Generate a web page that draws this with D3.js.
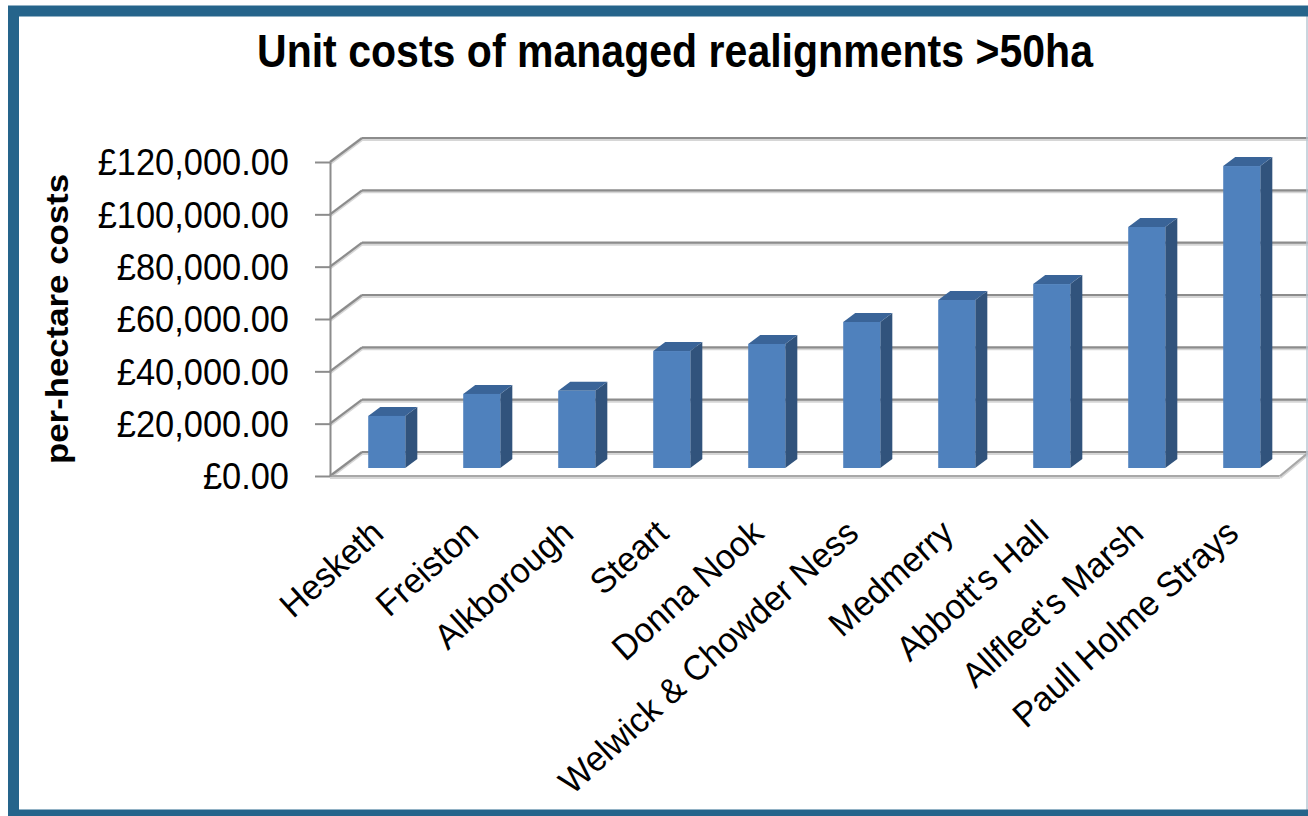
<!DOCTYPE html>
<html>
<head>
<meta charset="utf-8">
<script src="https://cdn.jsdelivr.net/npm/d3@7"></script>
<style>
  body { margin: 0; background: #fff; }
  svg { display: block; font-family: "Liberation Sans", Arial, sans-serif; }
</style>
</head>
<body>
<script>
// data
const sites = ["Hesketh", "Freiston", "Alkborough", "Steart", "Donna Nook",
  "Welwick & Chowder Ness", "Medmerry", "Abbott's Hall", "Allfleet's Marsh", "Paull Holme Strays"];
const costs = [19900, 28300, 29500, 44700, 47400, 55800, 64200, 70300, 92100, 115400];
const yTicks = [0, 20000, 40000, 60000, 80000, 100000, 120000];

const w = 1308, h = 816;
const plotLeft = 330, plotRight = 1280, plotBottom = 476, plotTop = 162;
const depthX = 32, depthY = 24;   // wall depth offset
const barFront = 1 / 3, barBack = 0.71;

const svg = d3.select("body").append("svg")
  .attr("width", w).attr("height", h);

const x = d3.scaleBand().domain(sites).range([plotLeft, plotRight]).padding(0);
const y = d3.scaleLinear().domain([0, 120000]).range([plotBottom, plotTop]);

// squeeze a text element horizontally
function squeeze(sel, k) {
  sel.each(function () {
    const len = this.getComputedTextLength();
    d3.select(this).attr("textLength", len * k).attr("lengthAdjust", "spacingAndGlyphs");
  });
}

// back wall gridlines + left wall diagonals
const grid = svg.append("g");
function gridLine(x1, y1, x2, y2, col) {
  grid.append("line").attr("x1", x1).attr("y1", y1 + 1.5).attr("x2", x2).attr("y2", y2 + 1.5)
    .attr("stroke", "#d6d6d6").attr("stroke-width", 3);
  grid.append("line").attr("x1", x1).attr("y1", y1).attr("x2", x2).attr("y2", y2)
    .attr("stroke", col).attr("stroke-width", 2.2);
}
yTicks.forEach(v => {
  const yf = y(v), yb = y(v) - depthY;
  gridLine(plotLeft + depthX, yb, w, yb, "#8c8c8c");
  gridLine(plotLeft, yf, plotLeft + depthX, yb, "#8c8c8c");
});
// floor
gridLine(plotLeft, plotBottom, plotRight, plotBottom, "#a8a8a8");
gridLine(plotRight, plotBottom, plotRight + depthX - 3, plotBottom - depthY, "#a8a8a8");

// front value axis
const yAxis = d3.axisLeft(y).tickValues(yTicks).tickSize(15).tickSizeOuter(0).tickPadding(26)
  .tickFormat(d => "£" + d3.format(",.2f")(d));
const ax = svg.append("g").attr("transform", "translate(" + plotLeft + ",0)").call(yAxis);
ax.select(".domain").attr("stroke", "#8c8c8c").attr("stroke-width", 2);
ax.selectAll(".tick line").attr("stroke", "#8c8c8c").attr("stroke-width", 2);
ax.selectAll(".tick text").attr("font-size", 37).attr("fill", "#000")
  .attr("font-family", "\"Liberation Sans\", Arial, sans-serif").attr("dy", "0.35em")
  .call(squeeze, 0.93);

// bars
const bdx = depthX * (barBack - barFront), bdy = depthY * (barBack - barFront);
const bw = x.bandwidth() * 0.39;
const bars = svg.append("g").selectAll("g").data(sites).enter().append("g");
bars.each(function (s, i) {
  const g = d3.select(this);
  const xl = x(s) + x.bandwidth() * 0.29 + depthX * barFront;
  const xr = xl + bw;
  const yb = y(0) - depthY * barFront;
  const yt = y(costs[i]) - depthY * barFront;
  g.append("path")
    .attr("d", `M${xr},${yt}L${xr + bdx},${yt - bdy}L${xr + bdx},${yb - bdy}L${xr},${yb}Z`)
    .attr("fill", "#31537c");
  g.append("path")
    .attr("d", `M${xl},${yt}L${xl + bdx},${yt - bdy}L${xr + bdx},${yt - bdy}L${xr},${yt}Z`)
    .attr("fill", "#3a6498");
  g.append("rect")
    .attr("x", xl).attr("y", yt).attr("width", bw).attr("height", yb - yt)
    .attr("fill", "#4f81bd");
});

// category labels
const xAxis = d3.axisBottom(x).tickSize(0);
const cx = svg.append("g").attr("transform", "translate(0," + plotBottom + ")").call(xAxis);
cx.select(".domain").remove();
cx.selectAll(".tick text")
  .attr("font-size", 35).attr("fill", "#000")
  .attr("font-family", "\"Liberation Sans\", Arial, sans-serif")
  .attr("text-anchor", "end").attr("dy", 0).attr("y", 0)
  .attr("transform", "translate(8,60) rotate(-42)")
  .call(squeeze, 0.97);

// axis title
svg.append("text")
  .attr("transform", "translate(68,319) rotate(-90)")
  .attr("text-anchor", "middle").attr("font-size", 32).attr("font-weight", "bold")
  .text("per-hectare costs")
  .attr("textLength", 290).attr("lengthAdjust", "spacingAndGlyphs");

// chart title
svg.append("text")
  .attr("x", 675).attr("y", 67).attr("text-anchor", "middle")
  .attr("font-family", "\"Liberation Sans Narrow\", \"Arial Narrow\", \"Liberation Sans\", Arial, sans-serif")
  .attr("font-size", 47).attr("font-weight", "bold")
  .text("Unit costs of managed realignments >50ha")
  .attr("textLength", 836).attr("lengthAdjust", "spacingAndGlyphs");

// frame
svg.append("line").attr("x1", 1307).attr("x2", 1307).attr("y1", 16).attr("y2", 810)
  .attr("stroke", "#b9c7d3").attr("stroke-width", 1.5);
svg.append("rect").attr("x", 13.5).attr("y", 11).attr("width", 1310).attr("height", 804)
  .attr("fill", "none").attr("stroke", "#25648b").attr("stroke-width", 11);
</script>
</body>
</html>
